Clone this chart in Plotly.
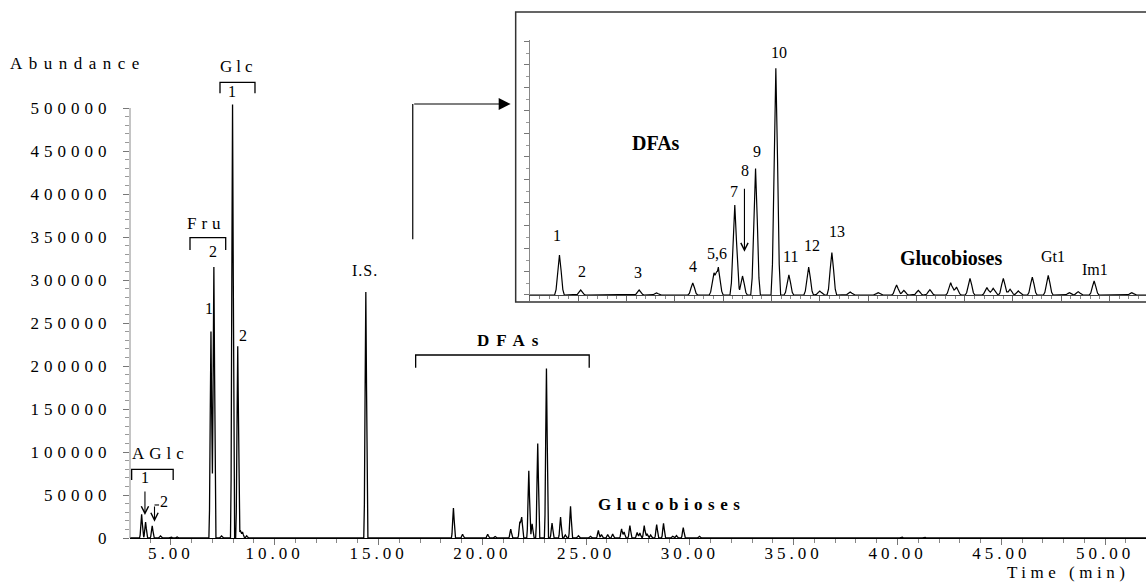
import numpy as np
import plotly.graph_objects as go

# ---------------- data ----------------
# retention time (min) and abundance of every visible peak
peak_time = [3.59, 3.78, 4.10, 4.50, 5.00, 5.30,
             6.93, 7.07, 7.44, 7.97, 8.22, 8.34, 8.45, 8.65,
             14.39,
             18.61, 19.05, 20.26, 20.62, 21.37, 21.81, 21.90, 22.24, 22.40,
             22.67, 23.09, 23.36, 23.77, 24.00, 24.25,
             24.63, 25.21, 25.59, 25.74, 26.04, 26.28, 26.71, 26.83, 27.11,
             27.46, 27.59, 27.80, 27.94, 28.11, 28.40, 28.73, 29.17, 29.35,
             29.68, 30.46,
             40.20, 41.30]
peak_abund = [27500, 18600, 14000, 2500, 1500, 1200,
              240000, 315000, 2500, 504000, 223000, 9000, 7000, 2500,
              286000,
              34700, 4300, 4300, 1700, 10400, 18200, 23400, 78100, 16500,
              110000, 197000, 17400, 24300, 3500, 36900,
              2600, 2000, 8700, 4000, 4000, 4600, 10700, 7000, 14500,
              6400, 5800, 14500, 5000, 3500, 15600, 17100, 2000, 2900,
              12200, 2000,
              1500, 1200]

x_tick_vals = [5, 10, 15, 20, 25, 30, 35, 40, 45, 50]
y_tick_vals = [0, 50000, 100000, 150000, 200000, 250000, 300000, 350000,
               400000, 450000, 500000]

# peak profile template (style of drawing one peak)
PEAK_OFFSETS = [-0.10, -0.07, -0.035, 0.0, 0.035, 0.07, 0.10]
PEAK_PROFILE = [0.0, 0.135, 0.6, 1.0, 0.6, 0.135, 0.0]

X_RANGE = [3.03, 51.97]
Y_RANGE = [0, 611628]
X2_RANGE = [18.0, 30.754]
Y2_RANGE = [0, 221600]

FONT = "Liberation Serif"


def build_trace(times, heights, x0, x1):
    xs = sorted(set([x0, x1] + [t + o for t in times for o in PEAK_OFFSETS]))
    xs = [x for x in xs if x0 <= x <= x1]
    ys = []
    for x in xs:
        s = 0.0
        for t, h in zip(times, heights):
            d = x - t
            if PEAK_OFFSETS[0] < d < PEAK_OFFSETS[-1]:
                s += h * float(np.interp(d, PEAK_OFFSETS, PEAK_PROFILE))
        ys.append(s)
    return xs, ys


tx, ty = build_trace(peak_time, peak_abund, X_RANGE[0], X_RANGE[1])


def sp(text, spacing):
    if spacing:
        return (f'<span style="font-family:Liberation Serif;'
                f'letter-spacing:{spacing}px">{text}</span>')
    return text


fig = go.Figure()
fig.add_trace(go.Scatter(x=tx, y=ty, mode="lines",
                         line=dict(color="black", width=1.3),
                         xaxis="x", yaxis="y", hoverinfo="skip",
                         showlegend=False))
fig.add_trace(go.Scatter(x=tx, y=ty, mode="lines",
                         line=dict(color="black", width=1.2),
                         xaxis="x2", yaxis="y2", hoverinfo="skip",
                         showlegend=False))

annotations = []


def ann(text, x, y, size=16, bold=False, spacing=0, xref="x", yref="y",
        xanchor="center", yanchor="middle"):
    t = f"<b>{text}</b>" if bold else text
    annotations.append(dict(text=sp(t, spacing), x=x, y=y, xref=xref,
                            yref=yref, xanchor=xanchor, yanchor=yanchor,
                            showarrow=False,
                            font=dict(family=FONT, size=size, color="black")))


# main chart texts
ann("Abundance", -0.12, 552300, size=17, spacing=6.5, xref="paper",
    xanchor="left")
ann("Glc", 8.27, 548000, size=17, spacing=4)
ann("1", 7.95, 519000)
ann("Fru", 6.70, 365900, size=17, spacing=5)
ann("2", 7.04, 332900)
ann("1", 6.85, 267400)
ann("2", 8.49, 236000)
ann("I.S.", 14.35, 311600, spacing=1)
ann("AGlc", 4.50, 97700, size=17, spacing=5)
ann("1", 3.75, 70600)
ann("2", 4.68, 42200)
ann("DFAs", 21.36, 229100, size=17, bold=True, spacing=7)
ann("Glucobioses", 29.11, 39500, size=17, bold=True, spacing=5.5)
ann("Time (min)", 0.9857, -0.066, size=17, spacing=4.5, xref="paper",
    yref="paper", xanchor="right")

# inset texts
ann("Disaccharides", 20.07, 233000, size=18, xref="x2", yref="y2")
ann("DFAs", 20.61, 131800, size=20, bold=True, xref="x2", yref="y2")
ann("Glucobioses", 26.71, 31900, size=20, bold=True, xref="x2", yref="y2")
inset_labels = ["1", "2", "3", "4", "5,6", "7", "8", "9", "10", "11", "12",
                "13", "Gt1", "Im1"]
inset_label_t = [18.55, 19.07, 20.24, 21.37, 21.87, 22.23, 22.45, 22.71,
                 23.16, 23.40, 23.83, 24.35, 28.82, 29.70]
inset_label_a = [52100, 20200, 19400, 24600, 36200, 89800, 108600, 124500,
                 210600, 33300, 42800, 55000, 33300, 22300]
for lab, lt, la in zip(inset_labels, inset_label_t, inset_label_a):
    ann(lab, lt, la, size=16, xref="x2", yref="y2")

# arrows
annotations.append(dict(text="", x=22.44, y=37600, ax=22.44, ay=93600,
                        xref="x2", yref="y2", axref="x2", ayref="y2",
                        showarrow=True, arrowhead=5, arrowsize=1.3,
                        arrowwidth=1.1, arrowcolor="black"))
annotations.append(dict(text="", x=3.75, y=26700, ax=3.75, ay=55800,
                        xref="x", yref="y", axref="x", ayref="y",
                        showarrow=True, arrowhead=5, arrowsize=1.3,
                        arrowwidth=1.1, arrowcolor="black"))
annotations.append(dict(text="", x=4.21, y=19000, ax=4.21, ay=38400,
                        xref="x", yref="y", axref="x", ayref="y",
                        showarrow=True, arrowhead=5, arrowsize=1.3,
                        arrowwidth=1.1, arrowcolor="black"))
annotations.append(dict(text="", x=0.3747, y=0.8251, ax=-98, ay=0,
                        xref="paper", yref="paper",
                        showarrow=True, arrowhead=2, arrowsize=2,
                        arrowwidth=1.2, arrowcolor="black"))

BR = dict(color="black", width=1.3)
shapes = [
    # brackets
    dict(type="path", xref="x", yref="y",
         path="M 7.365,517100 L 7.365,529900 L 9.05,529900 L 9.05,517100",
         line=BR),
    dict(type="path", xref="x", yref="y",
         path="M 5.92,334900 L 5.92,349200 L 7.64,349200 L 7.64,334900",
         line=BR),
    dict(type="path", xref="x", yref="y",
         path="M 3.11,67400 L 3.11,79900 L 5.11,79900 L 5.11,67400",
         line=BR),
    dict(type="path", xref="x", yref="y",
         path="M 16.79,198000 L 16.79,212800 L 25.15,212800 L 25.15,198000",
         line=BR),
    dict(type="line", xref="x", yref="y", x0=4.21, x1=4.43, y0=38400,
         y1=38400, line=dict(color="black", width=1.1)),
    # vertical part of the arrow to the inset
    dict(type="line", xref="paper", yref="paper", x0=0.2783, x1=0.2783,
         y0=0.5679, y1=0.8251, line=dict(color="black", width=1.2)),
    # main y axis line (stops at 500000)
    dict(type="line", xref="paper", yref="y", x0=0, x1=0, y0=0, y1=500000,
         line=dict(color="#8a8a8a", width=1)),
    # inset frame
    dict(type="rect", xref="paper", yref="paper", x0=0.3796, x1=1.01,
         y0=0.4487, y1=1.0, line=dict(color="#333333", width=1.5)),
]

fig.update_layout(
    width=1146, height=587,
    margin=dict(l=130, r=0, t=12, b=49),
    paper_bgcolor="white", plot_bgcolor="white",
    showlegend=False,
    font=dict(family=FONT, size=17, color="black"),
    annotations=annotations,
    shapes=shapes,
    xaxis=dict(range=X_RANGE, domain=[0, 1], anchor="y",
               tickmode="array", tickvals=x_tick_vals,
               ticktext=[sp(f"{v:.2f}", 4) for v in x_tick_vals],
               ticks="outside", ticklen=6, tickcolor="#777",
               ticklabelstandoff=-7,
               minor=dict(dtick=1, tick0=0, ticks="outside", ticklen=4,
                          tickcolor="#888"),
               showline=True, linecolor="black", linewidth=1.2,
               showgrid=False, zeroline=False, automargin=False,
               tickfont=dict(family=FONT, size=17, color="black")),
    yaxis=dict(range=Y_RANGE, domain=[0, 1], anchor="x",
               tickmode="array", tickvals=y_tick_vals,
               ticktext=[sp(str(v), 5) for v in y_tick_vals],
               ticks="outside", ticklen=6, tickcolor="#777",
               ticklabelstandoff=8,
               minor=dict(tickmode="array",
                          tickvals=list(range(10000, 500001, 10000)),
                          ticks="outside", ticklen=4, tickcolor="#999"),
               showline=False, showgrid=False, zeroline=False,
               automargin=False,
               tickfont=dict(family=FONT, size=17, color="black")),
    xaxis2=dict(range=X2_RANGE, domain=[0.3937, 1.0], anchor="y2",
                dtick=1, tick0=0, ticks="outside", ticklen=5,
                tickcolor="#666", showticklabels=False,
                minor=dict(dtick=0.2, ticks="outside", ticklen=3,
                           tickcolor="#888"),
                showline=True, linecolor="#444", linewidth=1,
                showgrid=False, zeroline=False),
    yaxis2=dict(range=Y2_RANGE, domain=[0.4620, 0.9468], anchor="x2",
                dtick=20000, tick0=0, ticks="outside", ticklen=5,
                tickcolor="#777", showticklabels=False,
                minor=dict(dtick=10000, ticks="outside", ticklen=3,
                           tickcolor="#999"),
                showline=True, linecolor="#888", linewidth=1,
                showgrid=False, zeroline=False),
)

fig.write_html("out.html")
